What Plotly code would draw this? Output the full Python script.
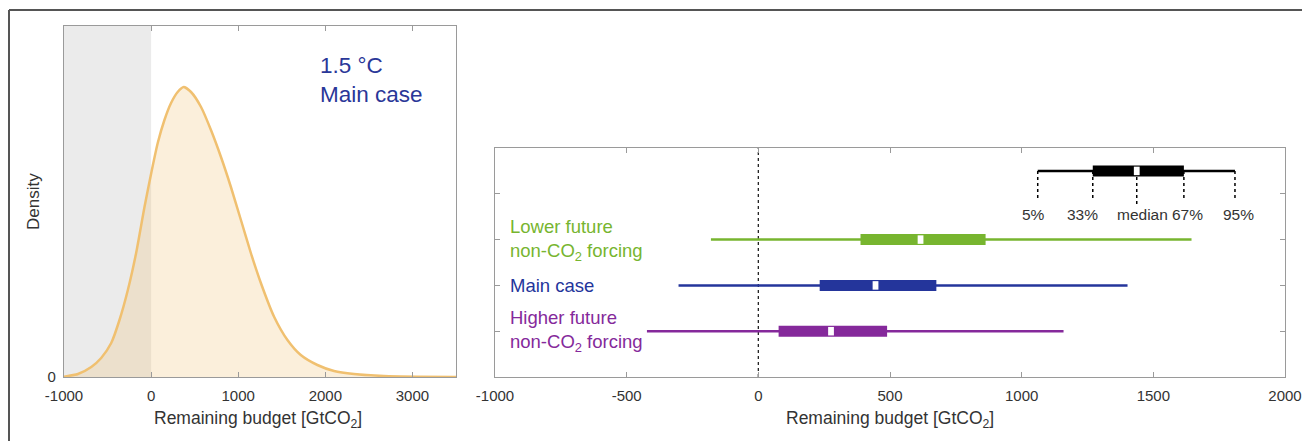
import plotly.graph_objects as go

# ---------------- data ----------------
# Left panel: density of remaining budget (arbitrary density units)
dens_x = [-1000, -840, -687, -573, -458, -363, -267, -172, -76, 4, 76, 153, 229, 305,
          374, 458, 573, 687, 802, 916, 1031, 1145, 1260, 1413, 1565, 1718, 1909,
          2100, 2329, 2673, 3055, 3500]
dens_y = [0.3, 3, 10, 19, 34, 57, 87, 124, 170, 205, 234, 257, 274, 285,
          290, 285, 270, 247, 220, 190, 157, 124, 94, 60, 37, 22, 12,
          6, 3, 1, 0.3, 0]
left_xticks = [-1000, 0, 1000, 2000, 3000]
left_xlabels = ["-1000", "0", "1000", "2000", "3000"]

# Right panel: percentile ranges per case
cases = ["Lower future<br>non-CO<sub>2</sub> forcing", "Main case",
         "Higher future<br>non-CO<sub>2</sub> forcing"]
case_pos = [3, 2, 1]
p5 = [-180, -303, -423]
p33 = [388, 233, 77]
p50 = [616, 445, 276]
p67 = [863, 676, 489]
p95 = [1645, 1402, 1159]
case_colors = ["#77b52f", "#24359b", "#85299b"]

# key (explanatory box)
key_pct = [1061, 1270, 1437, 1616, 1810]
key_labels = ["5%", "33%", "median", "67%", "95%"]
key_label_x = [1046, 1232, 1460, 1631, 1825]
right_xticks = [-1000, -500, 0, 500, 1000, 1500, 2000]
right_xlabels = ["-1000", "-500", "0", "500", "1000", "1500", "2000"]

# ---------------- styling ----------------
FONT = "Liberation Sans, Arial, sans-serif"
TICK_COL = "#333333"
AX_COL = "#9a9a9a"
OFF = 8                       # page body margin
W, H = 1310 - OFF, 441 - OFF

def px_x(p):
    return (p - OFF) / W

def px_y(p):
    return 1 - (p - OFF) / H

fig = go.Figure()

# left: density
fig.add_trace(go.Scatter(
    x=dens_x, y=dens_y, mode="lines",
    line=dict(color="#f0c070", width=2.5, shape="spline", smoothing=0.6),
    fill="tozeroy", fillcolor="rgba(240,190,110,0.25)", xaxis="x", yaxis="y",
    showlegend=False, hoverinfo="skip"))

def seg(x0, x1, y, color, width, dash=None):
    fig.add_trace(go.Scatter(
        x=[x0, x1], y=[y, y], mode="lines",
        line=dict(color=color, width=width, dash=dash), xaxis="x2", yaxis="y2",
        showlegend=False, hoverinfo="skip"))

# right: dotted zero line
fig.add_trace(go.Scatter(
    x=[0, 0], y=[0, 5], mode="lines", line=dict(color="#222222", width=1.3, dash="dot"),
    xaxis="x2", yaxis="y2", showlegend=False, hoverinfo="skip"))

MED_HALF = 11
BOX_W = 11
for i in range(len(cases)):
    seg(p5[i], p95[i], case_pos[i], case_colors[i], 2.5)
    seg(p33[i], p67[i], case_pos[i], case_colors[i], BOX_W)
    seg(p50[i] - MED_HALF, p50[i] + MED_HALF, case_pos[i], "#ffffff", 8.5)

# key
KEY_Y = 4.5
for j, v in enumerate(key_pct):
    yb = 3.76 if j == 2 else 3.91
    fig.add_trace(go.Scatter(
        x=[v, v], y=[KEY_Y, yb], mode="lines",
        line=dict(color="#000000", width=1.5, dash="dot"), xaxis="x2", yaxis="y2",
        showlegend=False, hoverinfo="skip"))
seg(key_pct[0], key_pct[4], KEY_Y, "#000000", 2.5)
seg(key_pct[1], key_pct[3], KEY_Y, "#000000", BOX_W)
seg(key_pct[2] - MED_HALF, key_pct[2] + MED_HALF, KEY_Y, "#ffffff", 8.5)

# ---------------- layout ----------------
annotations = []
annotations.append(dict(text="1.5 °C<br>Main case", x=px_x(318), y=px_y(80), xref="paper", yref="paper",
                        xanchor="left", yanchor="middle", align="left", showarrow=False,
                        font=dict(family=FONT, size=22.5, color="#2a3798")))
annotations.append(dict(text="Density", x=px_x(33), y=px_y(202), xref="paper", yref="paper",
                        textangle=-90, showarrow=False, xanchor="center", yanchor="middle",
                        font=dict(family=FONT, size=17, color=TICK_COL)))
annotations.append(dict(text="Remaining budget [GtCO<sub>2</sub>]", x=px_x(258), y=px_y(419),
                        xref="paper", yref="paper", showarrow=False, xanchor="center", yanchor="middle",
                        font=dict(family=FONT, size=17.5, color=TICK_COL)))
annotations.append(dict(text="Remaining budget [GtCO<sub>2</sub>]", x=px_x(890), y=px_y(419),
                        xref="paper", yref="paper", showarrow=False, xanchor="center", yanchor="middle",
                        font=dict(family=FONT, size=17.5, color=TICK_COL)))
for i in range(len(cases)):
    annotations.append(dict(text=cases[i], x=-952, y=case_pos[i], xref="x2", yref="y2",
                            xanchor="left", yanchor="middle", align="left", showarrow=False,
                            font=dict(family=FONT, size=18.5, color=case_colors[i])))
for j, lab in enumerate(key_labels):
    annotations.append(dict(text=lab, x=key_label_x[j], y=3.54, xref="x2", yref="y2",
                            xanchor="center", yanchor="middle", showarrow=False,
                            font=dict(family=FONT, size=15.5, color=TICK_COL)))

shapes = [
    dict(type="rect", xref="x", yref="y domain", x0=-1000, x1=0, y0=0, y1=1,
         fillcolor="#ebebeb", line=dict(width=0), layer="below"),
    dict(type="line", xref="paper", yref="paper", x0=px_x(9), x1=1, y0=px_y(10), y1=px_y(10),
         line=dict(color="#555555", width=2)),
    dict(type="line", xref="paper", yref="paper", x0=px_x(9), x1=px_x(9), y0=px_y(10), y1=0,
         line=dict(color="#555555", width=2)),
]

axis_common = dict(showgrid=False, zeroline=False, showline=True, linecolor=AX_COL, linewidth=1.2,
                   mirror="ticks", ticks="inside", tickcolor=AX_COL, ticklen=5, tickwidth=1.2,
                   automargin=False,
                   tickfont=dict(family=FONT, size=15, color=TICK_COL))
y1_common = {k: v for k, v in axis_common.items() if k != "ticks"}

fig.update_layout(
    width=W, height=H, margin=dict(l=0, r=0, t=0, b=0, autoexpand=False),
    paper_bgcolor="white", plot_bgcolor="white",
    showlegend=False,
    xaxis=dict(domain=[px_x(64), px_x(456)], range=[-1000, 3500], tickvals=left_xticks,
               ticktext=left_xlabels, ticklabelstandoff=5, anchor="y", **axis_common),
    yaxis=dict(domain=[px_y(377), px_y(26)], range=[0, 351], tickvals=[0], ticktext=["0"],
               ticks="", anchor="x", ticklabelstandoff=4, **y1_common),
    xaxis2=dict(domain=[px_x(495), px_x(1285)], range=[-1000, 2000], tickvals=right_xticks,
                ticktext=right_xlabels, ticklabelstandoff=5, anchor="y2", **axis_common),
    yaxis2=dict(domain=[px_y(377), px_y(148)], range=[0, 5], tickvals=[1, 2, 3, 4],
                showticklabels=False, anchor="x2", **axis_common),
    annotations=annotations, shapes=shapes,
)

fig.write_html("out.html")
